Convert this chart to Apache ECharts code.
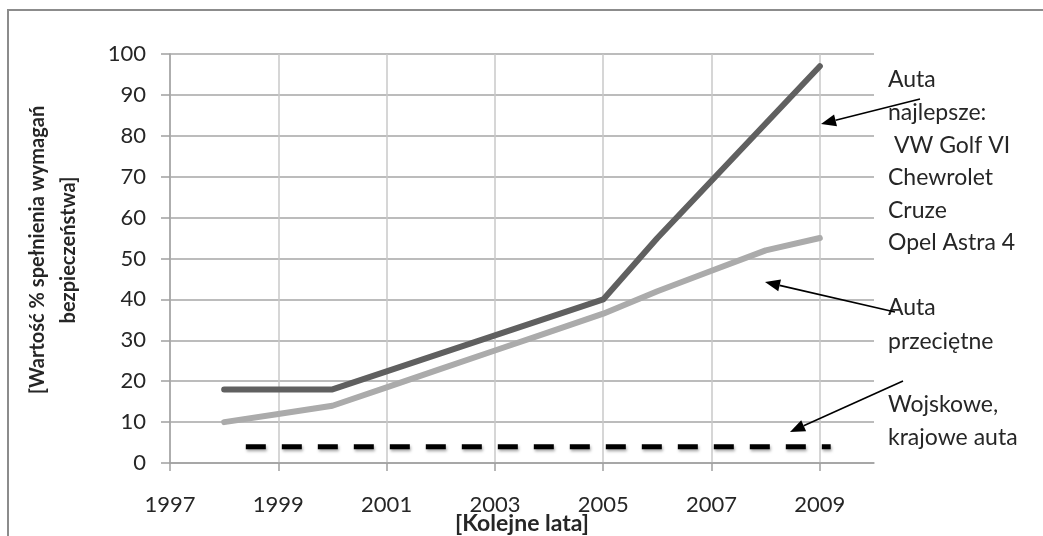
<!DOCTYPE html>
<html>
<head>
<meta charset="utf-8">
<script src="https://cdn.jsdelivr.net/npm/echarts@6/dist/echarts.min.js"></script>
<style>
html,body{margin:0;padding:0;background:#fff;}
#c{width:1043px;height:536px;}
</style>
</head>
<body>
<div id="c"></div>
<script>
// ---- data ----
var years = [1998, 1999, 2000, 2001, 2002, 2003, 2004, 2005, 2006, 2007, 2008, 2009];
var bestCars = [18, 18, 18, 22.4, 26.8, 31.2, 35.6, 40, 55, 69, 83, 97];
var avgCars = [10, 12, 14, 18.5, 23, 27.5, 32, 36.5, 42, 47, 52, 55];
var militaryX = [1998.4, 2009.2];
var militaryY = [4, 4];
var xTickLabels = [1997, 1999, 2001, 2003, 2005, 2007, 2009];
var yTickLabels = [0, 10, 20, 30, 40, 50, 60, 70, 80, 90, 100];
var yTitle = '[Wartość % spełnienia wymagań\nbezpieczeństwa]';
var xTitle = '[Kolejne lata]';
var noteBest = ['Auta', 'najlepsze:', ' VW Golf VI', 'Chewrolet', 'Cruze', 'Opel Astra 4'];
var noteAvg = ['Auta', 'przeciętne'];
var noteMil = ['Wojskowe,', 'krajowe auta'];

function pairs(xs, ys) { return xs.map(function (x, i) { return [x, ys[i]]; }); }

var FONT = 'Lato';
var TXT = '#262626';

function arrow(x1, y1, x2, y2) {
  var ang = Math.atan2(y2 - y1, x2 - x1);
  var L = 15, W = 6;
  var bx = x2 - L * Math.cos(ang), by = y2 - L * Math.sin(ang);
  var px = -Math.sin(ang) * W, py = Math.cos(ang) * W;
  return [
    { type: 'line', shape: { x1: x1, y1: y1, x2: bx, y2: by }, style: { stroke: '#000', lineWidth: 1.6 }, z: 20 },
    { type: 'polygon', shape: { points: [[x2, y2], [bx + px, by + py], [bx - px, by - py]] }, style: { fill: '#000' }, z: 20 }
  ];
}

function noteLines(lines, x, yc0, step) {
  return lines.map(function (t, i) {
    return { type: 'text', x: x, y: yc0 + i * step, style: { text: t, font: '23px ' + FONT, fill: TXT, textAlign: 'left', textVerticalAlign: 'middle' }, z: 15 };
  });
}

var graphics = [
  { type: 'rect', shape: { x: 8, y: 10, width: 1100, height: 700 }, style: { fill: 'none', stroke: '#8c8c8c', lineWidth: 2 }, z: -1 },
  { type: 'text', x: 53, y: 250, rotation: Math.PI / 2,
    style: { text: yTitle, font: 'bold 20px ' + FONT, fill: TXT, textAlign: 'center', textVerticalAlign: 'middle', lineHeight: 31 } },
  { type: 'text', x: 522, y: 524,
    style: { text: xTitle, font: 'bold 23px ' + FONT, fill: TXT, textAlign: 'center', textVerticalAlign: 'middle' }, z: 16 }
];
graphics = graphics
  .concat(noteLines(noteBest, 888, 80, 32.6))
  .concat(noteLines(noteAvg, 888, 308, 34))
  .concat(noteLines(noteMil, 888, 405, 33))
  .concat(arrow(920, 99, 821, 124))
  .concat(arrow(895, 312, 765, 282))
  .concat(arrow(903, 381, 790, 432));

var chart = echarts.init(document.getElementById('c'), null, { renderer: 'canvas' });
chart.setOption({
  backgroundColor: '#fff',
  animation: false,
  grid: { left: 170, top: 54, right: 169, bottom: 73, containLabel: false },
  xAxis: {
    type: 'value', min: 1997, max: 2010, interval: 1,
    axisLine: { show: true, lineStyle: { color: '#a0a0a0', width: 1.5 } },
    axisTick: { show: true, length: 8, lineStyle: { color: '#a0a0a0', width: 1.5 }, customValues: xTickLabels },
    axisLabel: { customValues: xTickLabels, margin: 31, fontFamily: FONT, fontSize: 22, color: TXT, formatter: function (v) { return String(v); } },
    splitLine: { show: true, lineStyle: { color: '#c8c8c8', width: 1.5 } }
  },
  yAxis: {
    type: 'value', min: 0, max: 100, interval: 10,
    axisLine: { show: true, lineStyle: { color: '#a0a0a0', width: 1.5 } },
    axisTick: { show: true, length: 9, lineStyle: { color: '#a0a0a0', width: 1.5 } },
    axisLabel: { margin: 24, fontFamily: FONT, fontSize: 22, color: TXT, formatter: function (v) { return yTickLabels.indexOf(v) >= 0 ? String(v) : ''; } },
    splitLine: { show: true, lineStyle: { color: '#a6a6a6', width: 1.5 } }
  },
  series: [
    { name: 'Auta najlepsze', type: 'line', data: pairs(years, bestCars), showSymbol: false, symbol: 'none',
      lineStyle: { color: '#606060', width: 6, cap: 'round', join: 'round' }, z: 3 },
    { name: 'Auta przeciętne', type: 'line', data: pairs(years, avgCars), showSymbol: false, symbol: 'none',
      lineStyle: { color: '#ababab', width: 6, cap: 'round', join: 'round' }, z: 2 },
    { name: 'Wojskowe, krajowe auta', type: 'line', data: pairs(militaryX, militaryY), showSymbol: false, symbol: 'none',
      lineStyle: { color: '#000', width: 5, type: [20, 16], cap: 'butt',
        shadowColor: 'rgba(0,0,0,0.35)', shadowBlur: 3, shadowOffsetX: 1, shadowOffsetY: 2 }, z: 4 }
  ],
  graphic: graphics
});
</script>
</body>
</html>
